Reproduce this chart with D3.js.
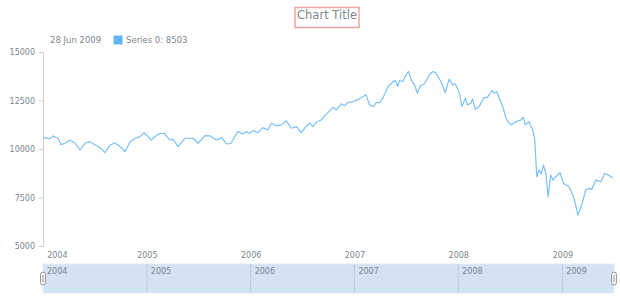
<!DOCTYPE html>
<html>
<head>
<meta charset="utf-8">
<script src="https://cdn.jsdelivr.net/npm/d3@7/dist/d3.min.js"></script>
<style>
  html, body { margin: 0; padding: 0; background: #fff; }
  #chart { width: 620px; height: 300px; }
  text { font-family: "DejaVu Sans", Verdana, sans-serif; fill: #7c868e; }
</style>
</head>
<body>
<div id="chart"></div>
<script>
//Datos (cierres aproximados)
const dates = [
  '2004-01-02','2004-01-27','2004-02-07','2004-02-25','2004-03-05','2004-03-20','2004-04-06','2004-04-23',
  '2004-05-11','2004-05-29','2004-06-15','2004-07-03','2004-07-21','2004-08-07','2004-08-25','2004-09-11',
  '2004-09-29','2004-10-17','2004-11-03','2004-11-21','2004-12-08','2004-12-22',
  '2005-01-17','2005-02-10','2005-03-03','2005-03-23','2005-04-04','2005-04-21','2005-05-03','2005-05-15',
  '2005-06-13','2005-06-30','2005-07-24','2005-08-11','2005-09-03','2005-09-21','2005-10-08','2005-10-24',
  '2005-11-07','2005-11-18','2005-12-05','2005-12-17','2005-12-28',
  '2006-01-09','2006-01-27','2006-02-13','2006-03-03','2006-03-15','2006-04-01','2006-04-19','2006-05-06',
  '2006-05-24','2006-06-11','2006-06-28','2006-07-16','2006-07-28','2006-08-08','2006-08-20','2006-09-07',
  '2006-09-18','2006-09-30','2006-10-18','2006-10-29','2006-11-15','2006-11-27','2006-12-09','2006-12-27',
  '2007-01-13','2007-01-31','2007-02-11','2007-02-23','2007-03-10','2007-03-18','2007-03-30','2007-04-11',
  '2007-04-29','2007-05-10','2007-05-22','2007-05-28','2007-06-02','2007-06-08','2007-06-20','2007-07-02',
  '2007-07-10','2007-07-22','2007-07-31','2007-08-10','2007-08-21','2007-09-04','2007-09-22','2007-10-04',
  '2007-10-14','2007-11-01','2007-11-16','2007-11-30','2007-12-12','2007-12-22',
  '2008-01-05','2008-01-14','2008-01-26','2008-02-03','2008-02-14','2008-02-20','2008-03-01','2008-03-15',
  '2008-03-29','2008-04-13','2008-04-28','2008-05-07','2008-05-15','2008-05-24','2008-06-05','2008-06-19',
  '2008-07-05','2008-07-22','2008-08-09','2008-08-17','2008-08-24','2008-09-05','2008-09-19','2008-09-26',
  '2008-10-03','2008-10-11','2008-10-19','2008-10-26','2008-11-04','2008-11-12','2008-11-21','2008-11-29',
  '2008-12-09','2008-12-24',
  '2009-01-05','2009-01-25','2009-02-11','2009-02-25','2009-03-13','2009-03-24','2009-04-05','2009-04-14',
  '2009-04-29','2009-05-17','2009-05-29','2009-06-11','2009-06-28'
];
const values = [
  10585,10533,10673,10533,10223,10295,10450,10326,
  9949,10295,10378,10207,10068,9809,10207,10326,
  10120,9861,10378,10553,10636,10843,
  10466,10776,10812,10466,10500,10120,10326,10553,
  10553,10295,10688,10673,10466,10585,10259,10295,
  10673,10895,10776,10895,10812,
  10947,10843,11102,10983,11329,11190,11241,11464,
  11071,11154,10843,11190,11329,11154,11381,11500,
  11707,11877,12156,12017,12327,12224,12395,12446,
  12534,12705,12792,12275,12188,12395,12395,12622,
  13222,13361,13532,13429,13222,13532,13480,13826,
  13997,13480,13309,12880,13258,13361,13826,13997,
  13914,13480,12911,13604,13309,13361,
  12880,12188,12622,12275,12363,12570,12053,12188,
  12622,12674,13015,12880,12963,12622,12188,11500,
  11241,11412,11500,11639,11241,11412,10983,10466,
  8569,8915,8708,9174,8744,7535,8656,8397,
  8569,8776,
  8228,8052,7452,6588,7276,7880,7968,7917,
  8397,8310,8744,8656,8503
];
const yTicks = [5000, 7500, 10000, 12500, 15000];
const yearTicks = ['2004','2005','2006','2007','2008','2009'];
const seriesName = 'Series 0';
const chartTitle = 'Chart Title';

const COLOR_LINE = '#64b5f6',
  COLOR_AXIS = '#cecece',
  COLOR_SCROLL = '#d3e3f4',
  COLOR_SCROLL_LINE = '#bccbdc';

const parse = d3.timeParse('%Y-%m-%d');
const data = dates.map((d, i) => ({ date: parse(d), value: values[i] }));

const W = 620, H = 300;
const margin = { top: 52, right: 7, bottom: 54, left: 43 };

const svg = d3.select('#chart').append('svg')
  .attr('width', W).attr('height', H);

const x = d3.scaleTime()
  .domain(d3.extent(data, d => d.date))
  .range([margin.left, W - margin.right]);

const y = d3.scaleLinear()
  .domain([5000, 15000])
  .range([H - margin.bottom, margin.top]);

//Título
const title = svg.append('text')
  .attr('x', 327).attr('y', 19)
  .attr('text-anchor', 'middle')
  .style('font-size', '11.5px')
  .text(chartTitle);
const tb = title.node().getBBox();
svg.append('rect')
  .attr('x', tb.x - 2).attr('y', 7.5)
  .attr('width', tb.width + 4).attr('height', 20)
  .attr('fill', 'none')
  .attr('stroke', '#f2a49c')
  .attr('stroke-width', 1.5);

//Leyenda
const last = data[data.length - 1];
svg.append('text')
  .attr('x', 50).attr('y', 43)
  .style('font-size', '8.5px')
  .text(d3.timeFormat('%d %b %Y')(last.date));
svg.append('rect')
  .attr('x', 113.5).attr('y', 35.5)
  .attr('width', 9).attr('height', 9)
  .attr('fill', COLOR_LINE);
svg.append('text')
  .attr('x', 126).attr('y', 43)
  .style('font-size', '8.5px')
  .text(seriesName + ': ' + last.value);

//Eje Y
const yAxis = svg.append('g')
  .attr('transform', 'translate(' + margin.left + ',0)')
  .call(d3.axisLeft(y).tickValues(yTicks).tickSize(4).tickPadding(4).tickFormat(d3.format('d')));
yAxis.select('.domain').attr('stroke', COLOR_AXIS);
yAxis.selectAll('.tick line').attr('stroke', COLOR_AXIS);
yAxis.selectAll('text').style('font-size', '8px').attr('fill', '#7c868e');

//Eje X
const yearDates = yearTicks.map(t => new Date(+t, 0, 1));
const xAxis = svg.append('g')
  .attr('transform', 'translate(0,' + (H - margin.bottom) + ')')
  .call(d3.axisBottom(x).tickValues(yearDates).tickSize(0).tickPadding(6).tickFormat(d3.timeFormat('%Y')));
xAxis.select('.domain').remove();
xAxis.selectAll('text').style('font-size', '8px').attr('fill', '#7c868e')
  .attr('text-anchor', (d, i) => i === 0 ? 'start' : 'middle')
  .attr('dx', (d, i) => i === 0 ? 4 : 0);

//Línea
const line = d3.line()
  .x(d => x(d.date))
  .y(d => y(d.value));
svg.append('path')
  .datum(data)
  .attr('fill', 'none')
  .attr('stroke', COLOR_LINE)
  .attr('stroke-opacity', 0.85)
  .attr('stroke-width', 1.2)
  .attr('stroke-linejoin', 'round')
  .attr('d', line);

//Scroller
const sTop = 264, sH = 29, sLeft = margin.left, sRight = W - 6;
svg.append('rect')
  .attr('x', sLeft).attr('y', sTop)
  .attr('width', sRight - sLeft).attr('height', sH)
  .attr('fill', COLOR_SCROLL)
  .attr('stroke', '#e3ebf4');
const scroll = svg.append('g');
scroll.selectAll('line')
  .data(yearDates.slice(1))
  .enter().append('line')
  .attr('x1', d => x(d)).attr('x2', d => x(d))
  .attr('y1', sTop).attr('y2', sTop + sH)
  .attr('stroke', COLOR_SCROLL_LINE);
scroll.selectAll('text')
  .data(yearDates)
  .enter().append('text')
  .attr('x', (d, i) => i === 0 ? sLeft + 4 : x(d) + 4)
  .attr('y', sTop + 10)
  .style('font-size', '8px')
  .text(d => d3.timeFormat('%Y')(d));

//Tiradores
[sLeft, sRight].forEach(function(hx) {
  svg.append('rect')
    .attr('x', hx - 2.5).attr('y', sTop + 8)
    .attr('width', 5).attr('height', 13)
    .attr('rx', 2.5)
    .attr('fill', '#f2f2f2')
    .attr('stroke', '#9a9a9a');
  svg.append('line')
    .attr('x1', hx).attr('x2', hx)
    .attr('y1', sTop + 11).attr('y2', sTop + 18)
    .attr('stroke', '#9a9a9a');
});
</script>
</body>
</html>
